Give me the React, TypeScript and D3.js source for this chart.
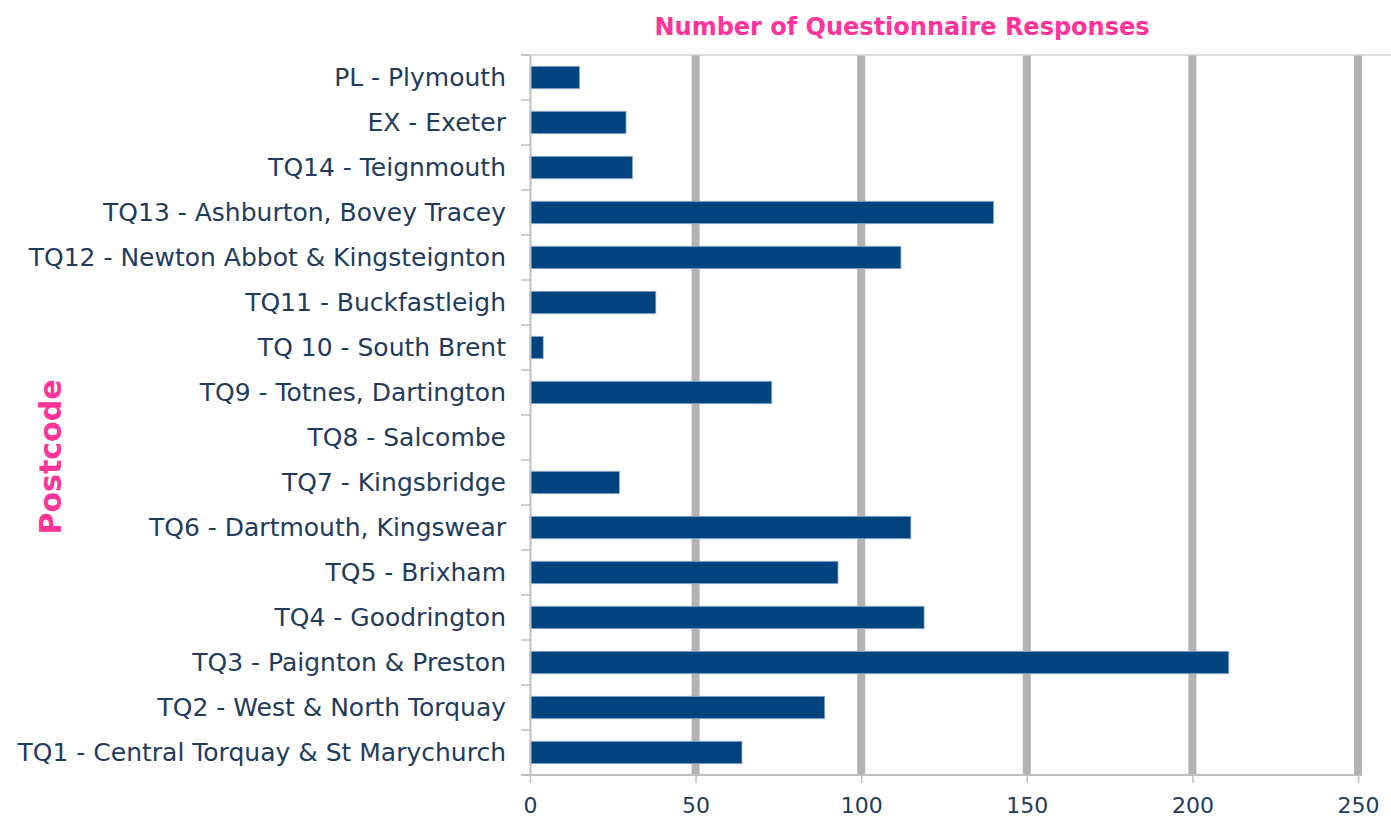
import { useEffect, useRef } from 'react'
import * as d3 from 'd3'

const categories = [
  'PL - Plymouth',
  'EX - Exeter',
  'TQ14 - Teignmouth',
  'TQ13 - Ashburton, Bovey Tracey',
  'TQ12 - Newton Abbot & Kingsteignton',
  'TQ11 - Buckfastleigh',
  'TQ 10 - South Brent',
  'TQ9 - Totnes, Dartington',
  'TQ8 - Salcombe',
  'TQ7 - Kingsbridge',
  'TQ6 - Dartmouth, Kingswear',
  'TQ5 - Brixham',
  'TQ4 - Goodrington',
  'TQ3 - Paignton & Preston',
  'TQ2 - West & North Torquay',
  'TQ1 - Central Torquay & St Marychurch',
]
const responses = [15, 29, 31, 140, 112, 38, 4, 73, 0, 27, 115, 93, 119, 211, 89, 64]
const xTicks = [0, 50, 100, 150, 200, 250]

const W = 1391
const H = 821

export default function App() {
  const ref = useRef<SVGSVGElement>(null)

  useEffect(() => {
    const svg = d3.select(ref.current)
    svg.selectAll('*').remove()

    const margin = { top: 55, right: 33, bottom: 46, left: 530 }
    const navy = '#1f3b5e'
    const pink = '#ff3399'
    const font = "Tahoma, 'DejaVu Sans', sans-serif"

    const x = d3.scaleLinear()
      .domain([0, 250])
      .range([margin.left, W - margin.right])

    const y = d3.scaleBand()
      .domain(categories)
      .range([margin.top, H - margin.bottom])
      .paddingInner(0.5)
      .paddingOuter(0.25)

    const band = d3.scaleBand()
      .domain(categories)
      .range([margin.top, H - margin.bottom])

    // gridlines
    svg.append('g')
      .selectAll('line')
      .data(xTicks.slice(1))
      .join('line')
      .attr('x1', d => x(d))
      .attr('x2', d => x(d))
      .attr('y1', margin.top)
      .attr('y2', H - margin.bottom)
      .attr('stroke', '#b3b3b3')
      .attr('stroke-width', 8)

    // top border
    svg.append('line')
      .attr('x1', margin.left - 9)
      .attr('x2', W)
      .attr('y1', margin.top)
      .attr('y2', margin.top)
      .attr('stroke', '#d0d0d0')
      .attr('stroke-width', 1.5)

    // bars
    svg.append('g')
      .selectAll('rect')
      .data(categories)
      .join('rect')
      .attr('x', x(0))
      .attr('y', d => y(d)!)
      .attr('width', (d, i) => x(responses[i]) - x(0))
      .attr('height', y.bandwidth())
      .attr('fill', '#01437f')
      .attr('stroke', '#9fb7d3')
      .attr('stroke-width', (d, i) => (responses[i] > 0 ? 0.8 : 0))

    // y axis
    const yAxis = svg.append('g')
      .attr('transform', `translate(${margin.left},0)`)
      .call(d3.axisLeft(band).tickSize(0).tickPadding(24))
    yAxis.select('.domain').attr('stroke', '#bfbfbf').attr('stroke-width', 2)
    yAxis.selectAll('text')
      .attr('fill', navy)
      .attr('font-size', 25)
      .attr('font-family', font)
    svg.append('g')
      .selectAll('line')
      .data(d3.range(categories.length + 1))
      .join('line')
      .attr('x1', margin.left - 9)
      .attr('x2', margin.left)
      .attr('y1', i => margin.top + i * band.step())
      .attr('y2', i => margin.top + i * band.step())
      .attr('stroke', '#bfbfbf')
      .attr('stroke-width', 1.5)

    // x axis
    const xAxis = svg.append('g')
      .attr('transform', `translate(0,${H - margin.bottom})`)
      .call(d3.axisBottom(x).tickValues(xTicks).tickSize(8).tickPadding(14))
    xAxis.select('.domain').remove()
    xAxis.append('line')
      .attr('x1', margin.left - 9)
      .attr('x2', x(250) + 4)
      .attr('stroke', '#bfbfbf')
      .attr('stroke-width', 2)
    xAxis.selectAll('.tick line').attr('stroke', '#bfbfbf').attr('stroke-width', 1.5)
    xAxis.selectAll('text')
      .attr('fill', navy)
      .attr('font-size', 22)
      .attr('font-family', font)

    // title
    svg.append('text')
      .attr('x', 902)
      .attr('y', 35)
      .attr('text-anchor', 'middle')
      .attr('fill', pink)
      .attr('font-size', 24)
      .attr('font-weight', 'bold')
      .attr('font-family', font)
      .text('Number of Questionnaire Responses')

    svg.append('text')
      .attr('transform', `translate(61,457) rotate(-90)`)
      .attr('text-anchor', 'middle')
      .attr('fill', pink)
      .attr('font-size', 30)
      .attr('font-weight', 'bold')
      .attr('font-family', font)
      .text('Postcode')
  }, [])

  return (
    <svg
      ref={ref}
      width={W}
      height={H}
      style={{ position: 'absolute', left: 0, top: 0, background: '#fff' }}
    />
  )
}
